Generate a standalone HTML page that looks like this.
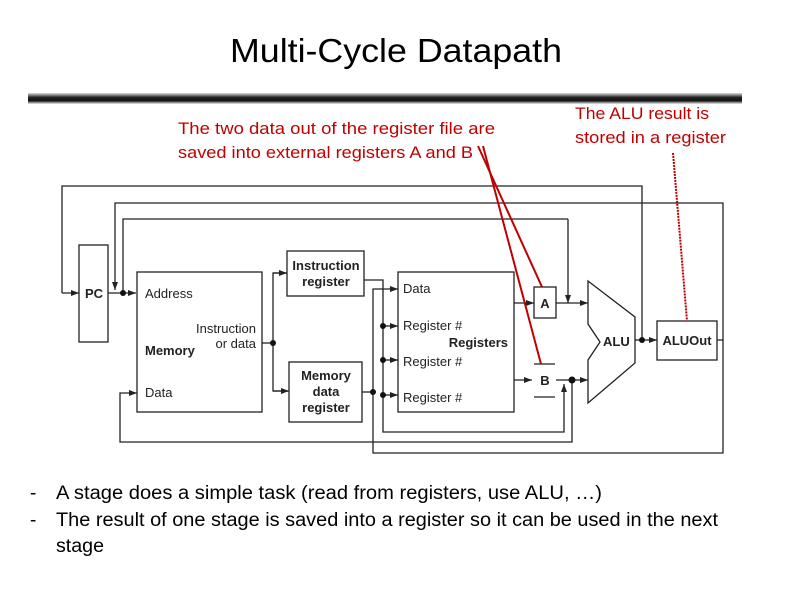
<!DOCTYPE html>
<html><head><meta charset="utf-8"><style>
body{margin:0;width:792px;height:612px;background:#fff;overflow:hidden}
svg{display:block}
</style></head><body>
<svg width="792" height="612" viewBox="0 0 792 612" xmlns="http://www.w3.org/2000/svg">
<defs>
<linearGradient id="bar" x1="0" y1="0" x2="0" y2="1">
<stop offset="0" stop-color="#ddd"/><stop offset="0.4" stop-color="#222"/><stop offset="0.7" stop-color="#111"/><stop offset="1" stop-color="#eee"/>
</linearGradient>
<marker id="ar" markerWidth="8" markerHeight="6" refX="8" refY="3" orient="auto" markerUnits="userSpaceOnUse"><path d="M0,0 L8,3 L0,6z" fill="#222"/></marker>
</defs>
<text x="230" y="62" font-family="Liberation Sans, sans-serif" font-size="33" textLength="332" lengthAdjust="spacingAndGlyphs" fill="#000">Multi-Cycle Datapath</text>
<rect x="28" y="93" width="714" height="11" fill="url(#bar)"/>
<g font-family="Liberation Sans, sans-serif" font-size="17" fill="#c00000" lengthAdjust="spacingAndGlyphs">
<text x="178" y="134" textLength="317" lengthAdjust="spacingAndGlyphs">The two data out of the register file are</text>
<text x="178" y="158" textLength="295" lengthAdjust="spacingAndGlyphs">saved into external registers A and B</text>
<text x="575" y="119" textLength="134" lengthAdjust="spacingAndGlyphs">The ALU result is</text>
<text x="575" y="143" textLength="151" lengthAdjust="spacingAndGlyphs">stored in a register</text>
</g>
<g stroke="#222" stroke-width="1.3" fill="none">
<rect x="79" y="245" width="29" height="97"/>
<rect x="137" y="272" width="125" height="140"/>
<rect x="287" y="251" width="77" height="45"/>
<rect x="289" y="362" width="73" height="60"/>
<rect x="398" y="272" width="116" height="140"/>
<rect x="534" y="287" width="22" height="31"/>
<line x1="534" y1="364" x2="555" y2="364"/><line x1="534" y1="397" x2="555" y2="397"/>
<rect x="657" y="321" width="60" height="39"/>
<polygon points="588,281 635,317 635,363 588,403 588,360 600,342 588,324"/>
<polyline points="642,340 642,186 62,186 62,293" />
<line x1="62" y1="293" x2="79" y2="293" marker-end="url(#ar)"/>
<polyline points="717,340 723,340 723,203 115,203 115,290" marker-end="url(#ar)"/>
<polyline points="568,219 123,219 123,293"/>
<line x1="568" y1="219" x2="568" y2="303" marker-end="url(#ar)"/>
<line x1="108" y1="293" x2="136" y2="293" marker-end="url(#ar)"/>
<line x1="262" y1="343" x2="273" y2="343"/>
<polyline points="287,273 273,273 273,391 288,391"/>
<line x1="273" y1="273" x2="287" y2="273" marker-end="url(#ar)"/>
<line x1="273" y1="391" x2="289" y2="391" marker-end="url(#ar)"/>
<polyline points="364,280 383,280 383,432 564,432 564,384" marker-end="url(#ar)"/>
<line x1="383" y1="326" x2="398" y2="326" marker-end="url(#ar)"/>
<line x1="383" y1="360" x2="398" y2="360" marker-end="url(#ar)"/>
<line x1="383" y1="395" x2="398" y2="395" marker-end="url(#ar)"/>
<line x1="362" y1="392" x2="373" y2="392"/>
<polyline points="723,340 723,453 373,453 373,289 398,289" marker-end="url(#ar)"/>
<polyline points="572,380 572,442 120,442 120,393 137,393" marker-end="url(#ar)"/>
<line x1="514" y1="303" x2="534" y2="303" marker-end="url(#ar)"/>
<line x1="556" y1="303" x2="588" y2="303" marker-end="url(#ar)"/>
<line x1="514" y1="380" x2="532" y2="380" marker-end="url(#ar)"/>
<line x1="556" y1="380" x2="588" y2="380" marker-end="url(#ar)"/>
<line x1="635" y1="340" x2="657" y2="340" marker-end="url(#ar)"/>
</g>
<g fill="#111">
<circle cx="123" cy="293" r="3"/><circle cx="273" cy="343" r="3"/>
<circle cx="383" cy="326" r="3"/><circle cx="383" cy="360" r="3"/><circle cx="383" cy="395" r="3"/>
<circle cx="373" cy="392" r="3"/><circle cx="572" cy="380" r="3.5"/><circle cx="642" cy="340" r="3"/>
</g>
<g font-family="Liberation Sans, sans-serif" font-size="13" fill="#222">
<text x="85" y="298" font-weight="bold">PC</text>
<text x="145" y="298">Address</text>
<text x="256" y="333" text-anchor="end">Instruction</text>
<text x="256" y="348" text-anchor="end">or data</text>
<text x="145" y="355" font-weight="bold">Memory</text>
<text x="145" y="397">Data</text>
<text x="326" y="270" text-anchor="middle" font-weight="bold">Instruction</text>
<text x="326" y="286" text-anchor="middle" font-weight="bold">register</text>
<text x="326" y="380" text-anchor="middle" font-weight="bold">Memory</text>
<text x="326" y="396" text-anchor="middle" font-weight="bold">data</text>
<text x="326" y="412" text-anchor="middle" font-weight="bold">register</text>
<text x="403" y="293">Data</text>
<text x="403" y="330">Register #</text>
<text x="508" y="347" text-anchor="end" font-weight="bold">Registers</text>
<text x="403" y="366">Register #</text>
<text x="403" y="402">Register #</text>
<text x="545" y="308" text-anchor="middle" font-weight="bold">A</text>
<text x="545" y="385" text-anchor="middle" font-weight="bold">B</text>
<text x="603" y="346" font-weight="bold">ALU</text>
<text x="687" y="345" text-anchor="middle" font-weight="bold">ALUOut</text>
</g>
<g stroke="#c00000" stroke-width="2" fill="none">
<line x1="478" y1="146" x2="542" y2="287"/>
<line x1="483" y1="146" x2="541" y2="364"/>
<line x1="673" y1="153" x2="687" y2="321" stroke-dasharray="2,1"/>
</g>
<g font-family="Liberation Sans, sans-serif" font-size="19" fill="#000">
<text x="30" y="499">-</text><text x="56" y="499" textLength="546" lengthAdjust="spacingAndGlyphs">A stage does a simple task (read from registers, use ALU, …)</text>
<text x="30" y="526">-</text><text x="56" y="526" textLength="662" lengthAdjust="spacingAndGlyphs">The result of one stage is saved into a register so it can be used in the next</text>
<text x="56" y="552" textLength="48" lengthAdjust="spacingAndGlyphs">stage</text>
</g>
</svg>
</body></html>
